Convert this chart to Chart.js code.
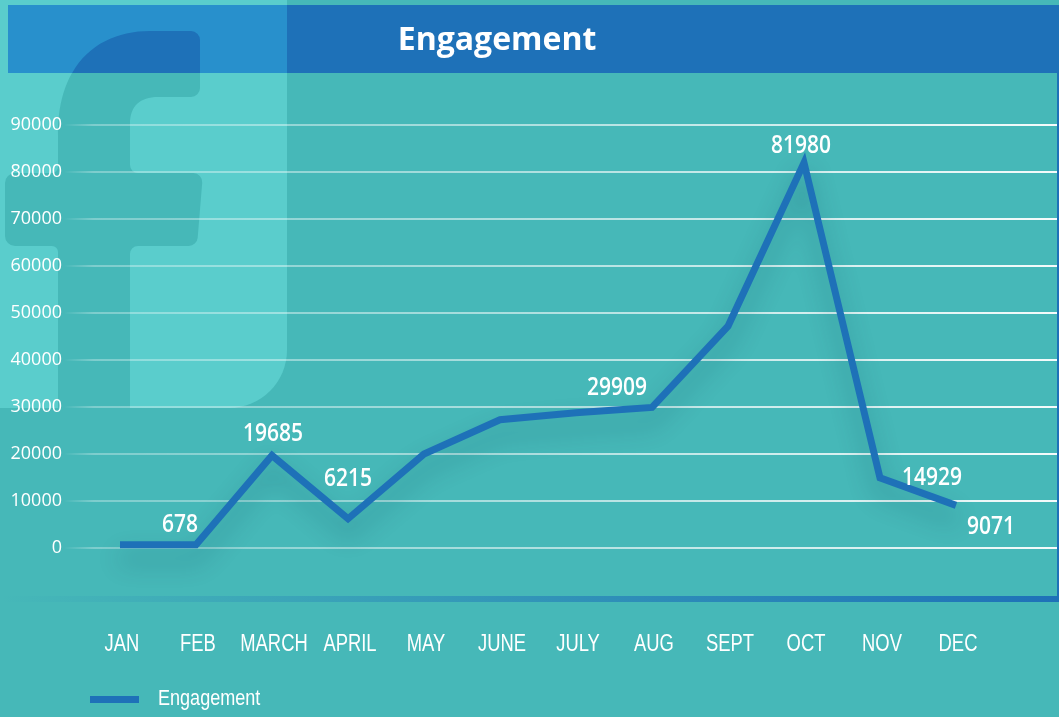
<!DOCTYPE html>
<html>
<head>
<meta charset="utf-8">
<title>Engagement</title>
<script src="https://cdn.jsdelivr.net/npm/chart.js@4.4.1/dist/chart.umd.min.js"></script>
<style>
    html, body { margin: 0; padding: 0; background: #46b8b8; overflow: hidden; }
    #wrap { width: 1059px; height: 717px; }
</style>
</head>
<body>
<div id="wrap"><canvas id="main_chart" width="1059" height="717"></canvas></div>
<script>
// chart data
const chartTitle = 'Engagement';
const months = ['JAN', 'FEB', 'MARCH', 'APRIL', 'MAY', 'JUNE', 'JULY', 'AUG', 'SEPT', 'OCT', 'NOV', 'DEC'];
const engagement = [700, 678, 19685, 6215, 20000, 27300, 28800, 29909, 47200, 81980, 14929, 9071];
const labeledMonths = ['FEB', 'MARCH', 'APRIL', 'AUG', 'OCT', 'NOV', 'DEC'];
const yMin = 0;
const yMax = 90000;
const yStep = 10000;

// where each value label sits relative to its point (layout only)
const labelShift = {
    FEB: [-16, -20], MARCH: [1, -22], APRIL: [0, -40], AUG: [-35, -20],
    OCT: [-3, -17], NOV: [52, 0], DEC: [35, 22]
};

const BG = '#46b8b8';
const PANEL = '#5acdcc';
const BLUE = '#1e71b8';
const BAND_LIGHT = '#2890cc';
const SANS = '"Liberation Sans", Arial, sans-serif';
const OPEN = '"Open Sans", sans-serif';

function narrowText(ctx, text, x, y, align, squeeze) {
    ctx.save();
    ctx.translate(x, y);
    ctx.scale(squeeze, 1);
    ctx.textAlign = align;
    ctx.textBaseline = 'middle';
    ctx.fillText(text, 0, 0);
    ctx.restore();
}

function panelPath(ctx) {
    ctx.beginPath();
    ctx.moveTo(0, 0);
    ctx.lineTo(287, 0);
    ctx.lineTo(287, 350);
    ctx.arcTo(287, 408, 229, 408, 58);
    ctx.lineTo(0, 408);
    ctx.closePath();
}

// the "f" of the logo
function letterPath(ctx) {
    ctx.beginPath();
    ctx.moveTo(58, 408);
    ctx.arcTo(58, 246, 5, 246, 6);
    ctx.arcTo(5, 246, 5, 173, 10);
    ctx.arcTo(5, 173, 58, 173, 10);
    ctx.arcTo(58, 173, 58, 120, 6);
    ctx.lineTo(58, 135);
    ctx.bezierCurveTo(58, 62, 100, 31, 150, 31);
    ctx.arcTo(200, 31, 200, 97, 9);
    ctx.arcTo(200, 97, 150, 97, 9);
    ctx.lineTo(158, 97);
    ctx.bezierCurveTo(140, 97, 130, 106, 130, 124);
    ctx.arcTo(130, 173, 203, 173, 8);
    ctx.arcTo(203, 173, 197, 246, 9);
    ctx.arcTo(197, 246, 130, 246, 9);
    ctx.arcTo(130, 246, 130, 408, 8);
    ctx.lineTo(130, 408);
    ctx.closePath();
}

const backdrop = {
    id: 'backdrop',
    beforeDraw(chart) {
        const ctx = chart.ctx;
        const w = chart.width;
        ctx.save();
        ctx.fillStyle = BG;
        ctx.fillRect(0, 0, w, chart.height);
        panelPath(ctx);
        ctx.fillStyle = PANEL;
        ctx.fill();
        letterPath(ctx);
        ctx.fillStyle = BG;
        ctx.fill();

        // title band
        ctx.save();
        ctx.beginPath();
        ctx.rect(8, 5, w - 8, 68);
        ctx.clip();
        ctx.fillStyle = BLUE;
        ctx.fillRect(8, 5, w - 8, 68);
        panelPath(ctx);
        ctx.fillStyle = BAND_LIGHT;
        ctx.fill();
        letterPath(ctx);
        ctx.fillStyle = BLUE;
        ctx.fill();
        ctx.restore();

        ctx.fillStyle = '#ffffff';
        ctx.font = 'bold 32px ' + OPEN;
        ctx.textAlign = 'center';
        ctx.textBaseline = 'middle';
        ctx.fillText(chartTitle, 497, 41);

        // right frame and bottom rule
        ctx.fillStyle = BLUE;
        ctx.fillRect(w - 2, 73, 2, 529);
        const g = ctx.createLinearGradient(0, 0, w, 0);
        g.addColorStop(0, 'rgba(30,113,184,0)');
        g.addColorStop(1, 'rgba(30,113,184,1)');
        ctx.fillStyle = g;
        ctx.fillRect(0, 596, w, 6);
        ctx.restore();
    }
};

const gridLines = {
    id: 'gridLines',
    beforeDatasetsDraw(chart) {
        const ctx = chart.ctx;
        const y = chart.scales.y;
        const g = ctx.createLinearGradient(64, 0, chart.width - 2, 0);
        g.addColorStop(0, 'rgba(255,255,255,0)');
        g.addColorStop(0.03, 'rgba(255,255,255,0.3)');
        g.addColorStop(0.45, 'rgba(255,255,255,0.55)');
        g.addColorStop(1, 'rgba(255,255,255,0.95)');
        ctx.save();
        ctx.strokeStyle = g;
        ctx.lineWidth = 2;
        y.ticks.forEach(t => {
            const py = Math.round(y.getPixelForValue(t.value));
            ctx.beginPath();
            ctx.moveTo(64, py);
            ctx.lineTo(chart.width - 2, py);
            ctx.stroke();
        });
        ctx.restore();
    }
};

const lineShadow = {
    id: 'lineShadow',
    beforeDatasetDraw(chart) {
        const ctx = chart.ctx;
        ctx.save();
        ctx.shadowColor = 'rgba(0,60,80,0.32)';
        ctx.shadowBlur = 24;
        ctx.shadowOffsetY = 14;
    },
    afterDatasetDraw(chart) {
        chart.ctx.restore();
    }
};

// month names under the axis, drawn at the category scale's tick pixels
const monthLabels = {
    id: 'monthLabels',
    afterDraw(chart) {
        const ctx = chart.ctx;
        const x = chart.scales.x;
        ctx.save();
        ctx.fillStyle = '#ffffff';
        ctx.font = '23px ' + SANS;
        x.ticks.forEach((t, i) => {
            narrowText(ctx, x.getLabelForValue(t.value), x.getPixelForTick(i) + 2, 645, 'center', 0.8);
        });
        ctx.restore();
    }
};

const valueLabels = {
    id: 'valueLabels',
    afterDatasetsDraw(chart) {
        const ctx = chart.ctx;
        const meta = chart.getDatasetMeta(0);
        ctx.save();
        ctx.fillStyle = '#ffffff';
        ctx.font = '600 25px ' + OPEN;
        months.forEach((m, i) => {
            if (!labeledMonths.includes(m)) return;
            const pt = meta.data[i];
            const s = labelShift[m];
            narrowText(ctx, String(engagement[i]), pt.x + s[0], pt.y + s[1], 'center', 0.84);
        });
        ctx.restore();
    }
};

const lineLegend = {
    id: 'lineLegend',
    afterDraw(chart) {
        const ctx = chart.ctx;
        const ds = chart.data.datasets[0];
        ctx.save();
        ctx.fillStyle = ds.borderColor;
        ctx.fillRect(90, 696, 49, 7);
        ctx.fillStyle = '#ffffff';
        ctx.font = '22px ' + SANS;
        narrowText(ctx, ds.label, 158, 699, 'left', 0.82);
        ctx.restore();
    }
};

document.addEventListener('DOMContentLoaded', function() {
    new Chart(document.getElementById('main_chart'), {
        type: 'line',
        data: {
            labels: months,
            datasets: [{
                label: 'Engagement',
                data: engagement,
                borderColor: BLUE,
                backgroundColor: BLUE,
                borderWidth: 7,
                borderJoinStyle: 'miter',
                tension: 0,
                pointRadius: 0,
                pointHoverRadius: 0,
                fill: false,
                clip: false
            }]
        },
        options: {
            responsive: false,
            animation: false,
            layout: {
                padding: { top: 125, right: 65, bottom: 0, left: 0 }
            },
            scales: {
                x: {
                    offset: true,
                    grid: { display: false, drawTicks: false },
                    border: { display: false },
                    ticks: { display: false, autoSkip: false },
                    afterFit: (scale) => { scale.height = 169; }
                },
                y: {
                    min: yMin,
                    max: yMax,
                    grid: { display: false, drawTicks: false },
                    border: { display: false },
                    ticks: {
                        stepSize: yStep,
                        color: '#ffffff',
                        font: { family: OPEN, size: 18 },
                        padding: 20,
                        callback: (v) => String(v)
                    },
                    afterFit: (scale) => { scale.width = 82; }
                }
            },
            plugins: {
                legend: { display: false },
                tooltip: { enabled: false }
            }
        },
        plugins: [backdrop, gridLines, lineShadow, valueLabels, monthLabels, lineLegend]
    });
});
</script>
</body>
</html>
